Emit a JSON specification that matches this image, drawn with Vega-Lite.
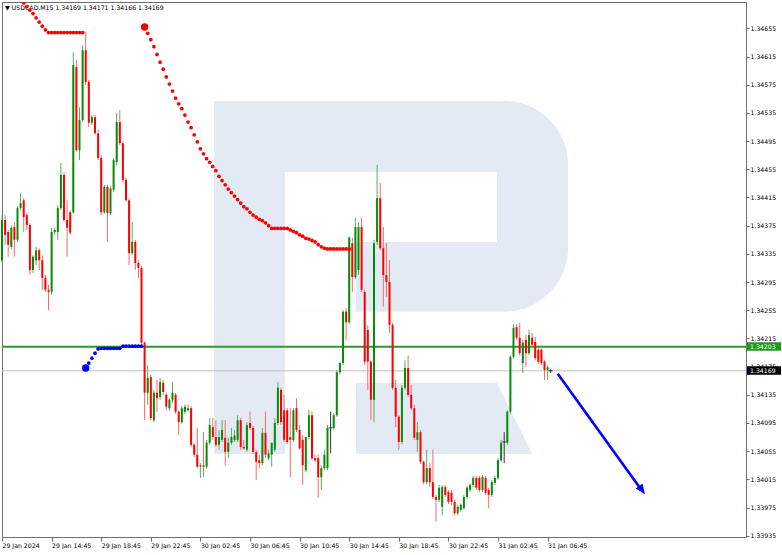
{
"$schema": "https://vega.github.io/schema/vega-lite/v6.json",
"width": 744, "height": 535,
"autosize": {"type": "none"},
"padding": {"left": 2, "top": 2, "right": 36, "bottom": 18},
"background": "#ffffff",
"config": {"view": {"stroke": "#6e6e6e", "strokeWidth": 1}, "font": "DejaVu Sans",
  "axis": {"labelFont": "DejaVu Sans", "labelFontSize": 6.2, "labelColor": "#000000", "tickColor": "#6e6e6e", "domain": false, "grid": false, "labelOverlap": false, "labelFlush": false, "labelBound": false}},
"datasets": {
"wmBowl": [{"t": "2024-01-30T03:51", "t2": "2024-01-31T08:24", "p": 1.34552, "p2": 1.34253}],
"wmStem": [{"t": "2024-01-30T03:51", "t2": "2024-01-30T09:34", "p": 1.34552, "p2": 1.34051}],
"wmHole": [{"t": "2024-01-30T09:34", "t2": "2024-01-31T02:40", "p": 1.34451, "p2": 1.34352}, {"t": "2024-01-30T09:34", "t2": "2024-01-30T15:18", "p": 1.34352, "p2": 1.34253}],
"wmLeg": [{"t": "2024-01-30T15:18", "p": 1.34152, "p2": 1.34051}, {"t": "2024-01-31T02:40", "p": 1.34152, "p2": 1.34051}, {"t": "2024-01-31T05:30", "p": 1.34051, "p2": 1.34051}],
"bars": [
{"t":"2024-01-29T10:45","o":1.34326,"h":1.34390,"l":1.34322,"c":1.34383},
{"t":"2024-01-29T11:00","o":1.34383,"h":1.34390,"l":1.34348,"c":1.34362},
{"t":"2024-01-29T11:15","o":1.34366,"h":1.34369,"l":1.34331,"c":1.34348},
{"t":"2024-01-29T11:30","o":1.34345,"h":1.34375,"l":1.34342,"c":1.34372},
{"t":"2024-01-29T11:45","o":1.34373,"h":1.34380,"l":1.34331,"c":1.34355},
{"t":"2024-01-29T12:00","o":1.34355,"h":1.34403,"l":1.34352,"c":1.34400},
{"t":"2024-01-29T12:15","o":1.34400,"h":1.34421,"l":1.34397,"c":1.34407},
{"t":"2024-01-29T12:30","o":1.34411,"h":1.34414,"l":1.34366,"c":1.34387},
{"t":"2024-01-29T12:45","o":1.34390,"h":1.34393,"l":1.34369,"c":1.34376},
{"t":"2024-01-29T13:00","o":1.34376,"h":1.34379,"l":1.34305,"c":1.34312},
{"t":"2024-01-29T13:15","o":1.34312,"h":1.34333,"l":1.34308,"c":1.34331},
{"t":"2024-01-29T13:30","o":1.34326,"h":1.34345,"l":1.34319,"c":1.34340},
{"t":"2024-01-29T13:45","o":1.34340,"h":1.34343,"l":1.34312,"c":1.34326},
{"t":"2024-01-29T14:00","o":1.34326,"h":1.34333,"l":1.34284,"c":1.34301},
{"t":"2024-01-29T14:15","o":1.34301,"h":1.34305,"l":1.34281,"c":1.34284},
{"t":"2024-01-29T14:30","o":1.34284,"h":1.34291,"l":1.34255,"c":1.34281},
{"t":"2024-01-29T14:45","o":1.34281,"h":1.34372,"l":1.34277,"c":1.34366},
{"t":"2024-01-29T15:00","o":1.34366,"h":1.34372,"l":1.34362,"c":1.34369},
{"t":"2024-01-29T15:15","o":1.34366,"h":1.34404,"l":1.34355,"c":1.34400},
{"t":"2024-01-29T15:30","o":1.34400,"h":1.34464,"l":1.34397,"c":1.34447},
{"t":"2024-01-29T15:45","o":1.34447,"h":1.34451,"l":1.34380,"c":1.34383},
{"t":"2024-01-29T16:00","o":1.34383,"h":1.34411,"l":1.34331,"c":1.34372},
{"t":"2024-01-29T16:15","o":1.34394,"h":1.34397,"l":1.34362,"c":1.34365},
{"t":"2024-01-29T16:30","o":1.34394,"h":1.34621,"l":1.34392,"c":1.34603},
{"t":"2024-01-29T16:45","o":1.34600,"h":1.34610,"l":1.34480,"c":1.34482},
{"t":"2024-01-29T17:00","o":1.34482,"h":1.34543,"l":1.34468,"c":1.34525},
{"t":"2024-01-29T17:15","o":1.34525,"h":1.34631,"l":1.34522,"c":1.34624},
{"t":"2024-01-29T17:30","o":1.34624,"h":1.34650,"l":1.34575,"c":1.34579},
{"t":"2024-01-29T17:45","o":1.34579,"h":1.34582,"l":1.34515,"c":1.34521},
{"t":"2024-01-29T18:00","o":1.34521,"h":1.34532,"l":1.34518,"c":1.34529},
{"t":"2024-01-29T18:15","o":1.34529,"h":1.34532,"l":1.34504,"c":1.34506},
{"t":"2024-01-29T18:30","o":1.34506,"h":1.34511,"l":1.34468,"c":1.34471},
{"t":"2024-01-29T18:45","o":1.34471,"h":1.34475,"l":1.34390,"c":1.34394},
{"t":"2024-01-29T19:00","o":1.34394,"h":1.34433,"l":1.34392,"c":1.34430},
{"t":"2024-01-29T19:15","o":1.34430,"h":1.34433,"l":1.34352,"c":1.34393},
{"t":"2024-01-29T19:30","o":1.34393,"h":1.34431,"l":1.34390,"c":1.34428},
{"t":"2024-01-29T19:45","o":1.34426,"h":1.34471,"l":1.34423,"c":1.34468},
{"t":"2024-01-29T20:00","o":1.34465,"h":1.34535,"l":1.34461,"c":1.34522},
{"t":"2024-01-29T20:15","o":1.34522,"h":1.34539,"l":1.34489,"c":1.34492},
{"t":"2024-01-29T20:30","o":1.34492,"h":1.34495,"l":1.34437,"c":1.34440},
{"t":"2024-01-29T20:45","o":1.34440,"h":1.34443,"l":1.34409,"c":1.34411},
{"t":"2024-01-29T21:00","o":1.34411,"h":1.34414,"l":1.34319,"c":1.34336},
{"t":"2024-01-29T21:15","o":1.34336,"h":1.34380,"l":1.34333,"c":1.34352},
{"t":"2024-01-29T21:30","o":1.34352,"h":1.34355,"l":1.34312,"c":1.34322},
{"t":"2024-01-29T21:45","o":1.34322,"h":1.34326,"l":1.34301,"c":1.34315},
{"t":"2024-01-29T22:00","o":1.34315,"h":1.34318,"l":1.34206,"c":1.34209},
{"t":"2024-01-29T22:15","o":1.34209,"h":1.34211,"l":1.34099,"c":1.34138},
{"t":"2024-01-29T22:30","o":1.34138,"h":1.34177,"l":1.34121,"c":1.34159},
{"t":"2024-01-29T22:45","o":1.34160,"h":1.34163,"l":1.34099,"c":1.34102},
{"t":"2024-01-29T23:00","o":1.34099,"h":1.34142,"l":1.34096,"c":1.34138},
{"t":"2024-01-29T23:15","o":1.34138,"h":1.34156,"l":1.34111,"c":1.34130},
{"t":"2024-01-29T23:30","o":1.34132,"h":1.34159,"l":1.34128,"c":1.34153},
{"t":"2024-01-29T23:45","o":1.34152,"h":1.34156,"l":1.34135,"c":1.34139},
{"t":"2024-01-30T00:00","o":1.34135,"h":1.34138,"l":1.34113,"c":1.34118},
{"t":"2024-01-30T00:15","o":1.34116,"h":1.34130,"l":1.34113,"c":1.34128},
{"t":"2024-01-30T00:30","o":1.34128,"h":1.34153,"l":1.34123,"c":1.34138},
{"t":"2024-01-30T00:45","o":1.34135,"h":1.34138,"l":1.34108,"c":1.34111},
{"t":"2024-01-30T01:00","o":1.34111,"h":1.34113,"l":1.34078,"c":1.34096},
{"t":"2024-01-30T01:15","o":1.34096,"h":1.34119,"l":1.34094,"c":1.34116},
{"t":"2024-01-30T01:30","o":1.34111,"h":1.34121,"l":1.34108,"c":1.34118},
{"t":"2024-01-30T01:45","o":1.34113,"h":1.34121,"l":1.34111,"c":1.34116},
{"t":"2024-01-30T02:00","o":1.34116,"h":1.34119,"l":1.34061,"c":1.34064},
{"t":"2024-01-30T02:15","o":1.34064,"h":1.34067,"l":1.34047,"c":1.34050},
{"t":"2024-01-30T02:30","o":1.34050,"h":1.34088,"l":1.34031,"c":1.34033},
{"t":"2024-01-30T02:45","o":1.34033,"h":1.34038,"l":1.34017,"c":1.34035},
{"t":"2024-01-30T03:00","o":1.34035,"h":1.34082,"l":1.34018,"c":1.34033},
{"t":"2024-01-30T03:15","o":1.34033,"h":1.34071,"l":1.34030,"c":1.34067},
{"t":"2024-01-30T03:30","o":1.34067,"h":1.34102,"l":1.34064,"c":1.34092},
{"t":"2024-01-30T03:45","o":1.34089,"h":1.34102,"l":1.34071,"c":1.34075},
{"t":"2024-01-30T04:00","o":1.34075,"h":1.34099,"l":1.34061,"c":1.34064},
{"t":"2024-01-30T04:15","o":1.34064,"h":1.34085,"l":1.34057,"c":1.34075},
{"t":"2024-01-30T04:30","o":1.34071,"h":1.34099,"l":1.34068,"c":1.34085},
{"t":"2024-01-30T04:45","o":1.34074,"h":1.34099,"l":1.34035,"c":1.34054},
{"t":"2024-01-30T05:00","o":1.34054,"h":1.34074,"l":1.34045,"c":1.34067},
{"t":"2024-01-30T05:15","o":1.34067,"h":1.34088,"l":1.34064,"c":1.34075},
{"t":"2024-01-30T05:30","o":1.34071,"h":1.34085,"l":1.34068,"c":1.34077},
{"t":"2024-01-30T05:45","o":1.34071,"h":1.34106,"l":1.34068,"c":1.34099},
{"t":"2024-01-30T06:00","o":1.34099,"h":1.34102,"l":1.34057,"c":1.34061},
{"t":"2024-01-30T06:15","o":1.34061,"h":1.34071,"l":1.34057,"c":1.34059},
{"t":"2024-01-30T06:30","o":1.34057,"h":1.34096,"l":1.34054,"c":1.34092},
{"t":"2024-01-30T06:45","o":1.34095,"h":1.34111,"l":1.34085,"c":1.34088},
{"t":"2024-01-30T07:00","o":1.34088,"h":1.34091,"l":1.34051,"c":1.34054},
{"t":"2024-01-30T07:15","o":1.34054,"h":1.34057,"l":1.34014,"c":1.34040},
{"t":"2024-01-30T07:30","o":1.34042,"h":1.34050,"l":1.34031,"c":1.34038},
{"t":"2024-01-30T07:45","o":1.34038,"h":1.34088,"l":1.34035,"c":1.34081},
{"t":"2024-01-30T08:00","o":1.34081,"h":1.34111,"l":1.34045,"c":1.34050},
{"t":"2024-01-30T08:15","o":1.34045,"h":1.34057,"l":1.34042,"c":1.34052},
{"t":"2024-01-30T08:30","o":1.34050,"h":1.34067,"l":1.34033,"c":1.34067},
{"t":"2024-01-30T08:45","o":1.34057,"h":1.34102,"l":1.34054,"c":1.34095},
{"t":"2024-01-30T09:00","o":1.34095,"h":1.34153,"l":1.34092,"c":1.34145},
{"t":"2024-01-30T09:15","o":1.34142,"h":1.34145,"l":1.34092,"c":1.34096},
{"t":"2024-01-30T09:30","o":1.34113,"h":1.34135,"l":1.34068,"c":1.34071},
{"t":"2024-01-30T09:45","o":1.34113,"h":1.34116,"l":1.34065,"c":1.34068},
{"t":"2024-01-30T10:00","o":1.34075,"h":1.34116,"l":1.34018,"c":1.34071},
{"t":"2024-01-30T10:15","o":1.34071,"h":1.34116,"l":1.34068,"c":1.34113},
{"t":"2024-01-30T10:30","o":1.34116,"h":1.34130,"l":1.34082,"c":1.34085},
{"t":"2024-01-30T10:45","o":1.34085,"h":1.34092,"l":1.34057,"c":1.34059},
{"t":"2024-01-30T11:00","o":1.34071,"h":1.34078,"l":1.34007,"c":1.34035},
{"t":"2024-01-30T11:15","o":1.34028,"h":1.34075,"l":1.34025,"c":1.34075},
{"t":"2024-01-30T11:30","o":1.34075,"h":1.34113,"l":1.34072,"c":1.34106},
{"t":"2024-01-30T11:45","o":1.34106,"h":1.34111,"l":1.34042,"c":1.34045},
{"t":"2024-01-30T12:00","o":1.34045,"h":1.34050,"l":1.34040,"c":1.34042},
{"t":"2024-01-30T12:15","o":1.34045,"h":1.34050,"l":1.33989,"c":1.34018},
{"t":"2024-01-30T12:30","o":1.34018,"h":1.34035,"l":1.34000,"c":1.34031},
{"t":"2024-01-30T12:45","o":1.34031,"h":1.34057,"l":1.34028,"c":1.34050},
{"t":"2024-01-30T13:00","o":1.34031,"h":1.34092,"l":1.34028,"c":1.34088},
{"t":"2024-01-30T13:15","o":1.34088,"h":1.34111,"l":1.34052,"c":1.34088},
{"t":"2024-01-30T13:30","o":1.34088,"h":1.34109,"l":1.34085,"c":1.34106},
{"t":"2024-01-30T13:45","o":1.34106,"h":1.34170,"l":1.34104,"c":1.34167},
{"t":"2024-01-30T14:00","o":1.34167,"h":1.34182,"l":1.34164,"c":1.34180},
{"t":"2024-01-30T14:15","o":1.34180,"h":1.34255,"l":1.34177,"c":1.34253},
{"t":"2024-01-30T14:30","o":1.34253,"h":1.34258,"l":1.34213,"c":1.34238},
{"t":"2024-01-30T14:45","o":1.34238,"h":1.34360,"l":1.34235,"c":1.34358},
{"t":"2024-01-30T15:00","o":1.34350,"h":1.34358,"l":1.34281,"c":1.34302},
{"t":"2024-01-30T15:15","o":1.34302,"h":1.34386,"l":1.34299,"c":1.34373},
{"t":"2024-01-30T15:30","o":1.34312,"h":1.34380,"l":1.34305,"c":1.34373},
{"t":"2024-01-30T15:45","o":1.34373,"h":1.34386,"l":1.34281,"c":1.34284},
{"t":"2024-01-30T16:00","o":1.34281,"h":1.34284,"l":1.34177,"c":1.34182},
{"t":"2024-01-30T16:15","o":1.34227,"h":1.34234,"l":1.34142,"c":1.34182},
{"t":"2024-01-30T16:30","o":1.34182,"h":1.34184,"l":1.34099,"c":1.34128},
{"t":"2024-01-30T16:45","o":1.34128,"h":1.34355,"l":1.34096,"c":1.34350},
{"t":"2024-01-30T17:00","o":1.34352,"h":1.34461,"l":1.34348,"c":1.34414},
{"t":"2024-01-30T17:15","o":1.34414,"h":1.34436,"l":1.34340,"c":1.34343},
{"t":"2024-01-30T17:30","o":1.34343,"h":1.34373,"l":1.34260,"c":1.34305},
{"t":"2024-01-30T17:45","o":1.34305,"h":1.34350,"l":1.34274,"c":1.34295},
{"t":"2024-01-30T18:00","o":1.34295,"h":1.34326,"l":1.34223,"c":1.34234},
{"t":"2024-01-30T18:15","o":1.34234,"h":1.34237,"l":1.34142,"c":1.34145},
{"t":"2024-01-30T18:30","o":1.34145,"h":1.34156,"l":1.34089,"c":1.34104},
{"t":"2024-01-30T18:45","o":1.34104,"h":1.34106,"l":1.34057,"c":1.34068},
{"t":"2024-01-30T19:00","o":1.34068,"h":1.34149,"l":1.34065,"c":1.34145},
{"t":"2024-01-30T19:15","o":1.34145,"h":1.34184,"l":1.34142,"c":1.34173},
{"t":"2024-01-30T19:30","o":1.34173,"h":1.34191,"l":1.34132,"c":1.34135},
{"t":"2024-01-30T19:45","o":1.34135,"h":1.34149,"l":1.34113,"c":1.34116},
{"t":"2024-01-30T20:00","o":1.34116,"h":1.34121,"l":1.34071,"c":1.34074},
{"t":"2024-01-30T20:15","o":1.34071,"h":1.34096,"l":1.34054,"c":1.34082},
{"t":"2024-01-30T20:30","o":1.34082,"h":1.34085,"l":1.34037,"c":1.34040},
{"t":"2024-01-30T20:45","o":1.34040,"h":1.34042,"l":1.34008,"c":1.34011},
{"t":"2024-01-30T21:00","o":1.34011,"h":1.34057,"l":1.34008,"c":1.34031},
{"t":"2024-01-30T21:15","o":1.34031,"h":1.34038,"l":1.34004,"c":1.34011},
{"t":"2024-01-30T21:30","o":1.34011,"h":1.34057,"l":1.33987,"c":1.33990},
{"t":"2024-01-30T21:45","o":1.33990,"h":1.33993,"l":1.33955,"c":1.33986},
{"t":"2024-01-30T22:00","o":1.33986,"h":1.34007,"l":1.33983,"c":1.34003},
{"t":"2024-01-30T22:15","o":1.33976,"h":1.34007,"l":1.33964,"c":1.34004},
{"t":"2024-01-30T22:30","o":1.34004,"h":1.34007,"l":1.33990,"c":1.33993},
{"t":"2024-01-30T22:45","o":1.33997,"h":1.34000,"l":1.33980,"c":1.33983},
{"t":"2024-01-30T23:00","o":1.33996,"h":1.34000,"l":1.33979,"c":1.33983},
{"t":"2024-01-30T23:15","o":1.33983,"h":1.33986,"l":1.33964,"c":1.33967},
{"t":"2024-01-30T23:30","o":1.33967,"h":1.33979,"l":1.33964,"c":1.33976},
{"t":"2024-01-30T23:45","o":1.33972,"h":1.33981,"l":1.33969,"c":1.33979},
{"t":"2024-01-31T00:00","o":1.33974,"h":1.33993,"l":1.33972,"c":1.33990},
{"t":"2024-01-31T00:15","o":1.33990,"h":1.34006,"l":1.33987,"c":1.34003},
{"t":"2024-01-31T00:30","o":1.34000,"h":1.34010,"l":1.33997,"c":1.34007},
{"t":"2024-01-31T00:45","o":1.34007,"h":1.34020,"l":1.34004,"c":1.34017},
{"t":"2024-01-31T01:00","o":1.34017,"h":1.34020,"l":1.34000,"c":1.34003},
{"t":"2024-01-31T01:15","o":1.34017,"h":1.34020,"l":1.33997,"c":1.34000},
{"t":"2024-01-31T01:30","o":1.34000,"h":1.34021,"l":1.33997,"c":1.34018},
{"t":"2024-01-31T01:45","o":1.34017,"h":1.34020,"l":1.33993,"c":1.33996},
{"t":"2024-01-31T02:00","o":1.34000,"h":1.34003,"l":1.33974,"c":1.33993},
{"t":"2024-01-31T02:15","o":1.33993,"h":1.34014,"l":1.33990,"c":1.34011},
{"t":"2024-01-31T02:30","o":1.34010,"h":1.34020,"l":1.34007,"c":1.34017},
{"t":"2024-01-31T02:45","o":1.34017,"h":1.34045,"l":1.34014,"c":1.34042},
{"t":"2024-01-31T03:00","o":1.34042,"h":1.34071,"l":1.34040,"c":1.34067},
{"t":"2024-01-31T03:15","o":1.34068,"h":1.34082,"l":1.34038,"c":1.34068},
{"t":"2024-01-31T03:30","o":1.34067,"h":1.34113,"l":1.34064,"c":1.34111},
{"t":"2024-01-31T03:45","o":1.34111,"h":1.34191,"l":1.34108,"c":1.34189},
{"t":"2024-01-31T04:00","o":1.34189,"h":1.34235,"l":1.34186,"c":1.34230},
{"t":"2024-01-31T04:15","o":1.34231,"h":1.34235,"l":1.34213,"c":1.34216},
{"t":"2024-01-31T04:30","o":1.34216,"h":1.34237,"l":1.34191,"c":1.34194},
{"t":"2024-01-31T04:45","o":1.34180,"h":1.34213,"l":1.34166,"c":1.34209},
{"t":"2024-01-31T05:00","o":1.34213,"h":1.34220,"l":1.34174,"c":1.34194},
{"t":"2024-01-31T05:15","o":1.34194,"h":1.34227,"l":1.34191,"c":1.34220},
{"t":"2024-01-31T05:30","o":1.34216,"h":1.34223,"l":1.34203,"c":1.34206},
{"t":"2024-01-31T05:45","o":1.34210,"h":1.34217,"l":1.34184,"c":1.34187},
{"t":"2024-01-31T06:00","o":1.34199,"h":1.34201,"l":1.34179,"c":1.34182},
{"t":"2024-01-31T06:15","o":1.34199,"h":1.34201,"l":1.34177,"c":1.34180},
{"t":"2024-01-31T06:30","o":1.34182,"h":1.34184,"l":1.34156,"c":1.34170},
{"t":"2024-01-31T06:45","o":1.34170,"h":1.34177,"l":1.34156,"c":1.34174},
{"t":"2024-01-31T07:00","o":1.34169,"h":1.34171,"l":1.34166,"c":1.34169}
],
"sar": [
{"t":"2024-01-29T12:00","p":1.34701,"s":"sell","k":"dot"},
{"t":"2024-01-29T12:15","p":1.34696,"s":"sell","k":"dot"},
{"t":"2024-01-29T12:30","p":1.34691,"s":"sell","k":"dot"},
{"t":"2024-01-29T12:45","p":1.34686,"s":"sell","k":"dot"},
{"t":"2024-01-29T13:00","p":1.34681,"s":"sell","k":"dot"},
{"t":"2024-01-29T13:15","p":1.34676,"s":"sell","k":"dot"},
{"t":"2024-01-29T13:30","p":1.34670,"s":"sell","k":"dot"},
{"t":"2024-01-29T13:45","p":1.34664,"s":"sell","k":"dot"},
{"t":"2024-01-29T14:00","p":1.34658,"s":"sell","k":"dot"},
{"t":"2024-01-29T14:15","p":1.34653,"s":"sell","k":"dot"},
{"t":"2024-01-29T14:30","p":1.34649,"s":"sell","k":"dot"},
{"t":"2024-01-29T14:45","p":1.34649,"s":"sell","k":"dot"},
{"t":"2024-01-29T15:00","p":1.34649,"s":"sell","k":"dot"},
{"t":"2024-01-29T15:15","p":1.34649,"s":"sell","k":"dot"},
{"t":"2024-01-29T15:30","p":1.34649,"s":"sell","k":"dot"},
{"t":"2024-01-29T15:45","p":1.34649,"s":"sell","k":"dot"},
{"t":"2024-01-29T16:00","p":1.34649,"s":"sell","k":"dot"},
{"t":"2024-01-29T16:15","p":1.34649,"s":"sell","k":"dot"},
{"t":"2024-01-29T16:30","p":1.34649,"s":"sell","k":"dot"},
{"t":"2024-01-29T16:45","p":1.34649,"s":"sell","k":"dot"},
{"t":"2024-01-29T17:00","p":1.34649,"s":"sell","k":"dot"},
{"t":"2024-01-29T17:15","p":1.34649,"s":"sell","k":"dot"},
{"t":"2024-01-29T17:30","p":1.34173,"s":"buy","k":"start"},
{"t":"2024-01-29T17:45","p":1.34180,"s":"buy","k":"dot"},
{"t":"2024-01-29T18:00","p":1.34187,"s":"buy","k":"dot"},
{"t":"2024-01-29T18:15","p":1.34194,"s":"buy","k":"dot"},
{"t":"2024-01-29T18:30","p":1.34200,"s":"buy","k":"dot"},
{"t":"2024-01-29T18:45","p":1.34201,"s":"buy","k":"dot"},
{"t":"2024-01-29T19:00","p":1.34201,"s":"buy","k":"dot"},
{"t":"2024-01-29T19:15","p":1.34201,"s":"buy","k":"dot"},
{"t":"2024-01-29T19:30","p":1.34201,"s":"buy","k":"dot"},
{"t":"2024-01-29T19:45","p":1.34201,"s":"buy","k":"dot"},
{"t":"2024-01-29T20:00","p":1.34201,"s":"buy","k":"dot"},
{"t":"2024-01-29T20:15","p":1.34201,"s":"buy","k":"dot"},
{"t":"2024-01-29T20:30","p":1.34204,"s":"buy","k":"dot"},
{"t":"2024-01-29T20:45","p":1.34204,"s":"buy","k":"dot"},
{"t":"2024-01-29T21:00","p":1.34204,"s":"buy","k":"dot"},
{"t":"2024-01-29T21:15","p":1.34204,"s":"buy","k":"dot"},
{"t":"2024-01-29T21:30","p":1.34204,"s":"buy","k":"dot"},
{"t":"2024-01-29T21:45","p":1.34204,"s":"buy","k":"dot"},
{"t":"2024-01-29T22:00","p":1.34204,"s":"buy","k":"dot"},
{"t":"2024-01-29T22:15","p":1.34657,"s":"sell","k":"start"},
{"t":"2024-01-29T22:30","p":1.34648,"s":"sell","k":"dot"},
{"t":"2024-01-29T22:45","p":1.34639,"s":"sell","k":"dot"},
{"t":"2024-01-29T23:00","p":1.34629,"s":"sell","k":"dot"},
{"t":"2024-01-29T23:15","p":1.34618,"s":"sell","k":"dot"},
{"t":"2024-01-29T23:30","p":1.34607,"s":"sell","k":"dot"},
{"t":"2024-01-29T23:45","p":1.34597,"s":"sell","k":"dot"},
{"t":"2024-01-30T00:00","p":1.34586,"s":"sell","k":"dot"},
{"t":"2024-01-30T00:15","p":1.34576,"s":"sell","k":"dot"},
{"t":"2024-01-30T00:30","p":1.34566,"s":"sell","k":"dot"},
{"t":"2024-01-30T00:45","p":1.34556,"s":"sell","k":"dot"},
{"t":"2024-01-30T01:00","p":1.34548,"s":"sell","k":"dot"},
{"t":"2024-01-30T01:15","p":1.34541,"s":"sell","k":"dot"},
{"t":"2024-01-30T01:30","p":1.34532,"s":"sell","k":"dot"},
{"t":"2024-01-30T01:45","p":1.34522,"s":"sell","k":"dot"},
{"t":"2024-01-30T02:00","p":1.34514,"s":"sell","k":"dot"},
{"t":"2024-01-30T02:15","p":1.34504,"s":"sell","k":"dot"},
{"t":"2024-01-30T02:30","p":1.34494,"s":"sell","k":"dot"},
{"t":"2024-01-30T02:45","p":1.34484,"s":"sell","k":"dot"},
{"t":"2024-01-30T03:00","p":1.34477,"s":"sell","k":"dot"},
{"t":"2024-01-30T03:15","p":1.34470,"s":"sell","k":"dot"},
{"t":"2024-01-30T03:30","p":1.34465,"s":"sell","k":"dot"},
{"t":"2024-01-30T03:45","p":1.34459,"s":"sell","k":"dot"},
{"t":"2024-01-30T04:00","p":1.34453,"s":"sell","k":"dot"},
{"t":"2024-01-30T04:15","p":1.34445,"s":"sell","k":"dot"},
{"t":"2024-01-30T04:30","p":1.34439,"s":"sell","k":"dot"},
{"t":"2024-01-30T04:45","p":1.34433,"s":"sell","k":"dot"},
{"t":"2024-01-30T05:00","p":1.34427,"s":"sell","k":"dot"},
{"t":"2024-01-30T05:15","p":1.34422,"s":"sell","k":"dot"},
{"t":"2024-01-30T05:30","p":1.34417,"s":"sell","k":"dot"},
{"t":"2024-01-30T05:45","p":1.34412,"s":"sell","k":"dot"},
{"t":"2024-01-30T06:00","p":1.34407,"s":"sell","k":"dot"},
{"t":"2024-01-30T06:15","p":1.34402,"s":"sell","k":"dot"},
{"t":"2024-01-30T06:30","p":1.34399,"s":"sell","k":"dot"},
{"t":"2024-01-30T06:45","p":1.34394,"s":"sell","k":"dot"},
{"t":"2024-01-30T07:00","p":1.34390,"s":"sell","k":"dot"},
{"t":"2024-01-30T07:15","p":1.34387,"s":"sell","k":"dot"},
{"t":"2024-01-30T07:30","p":1.34384,"s":"sell","k":"dot"},
{"t":"2024-01-30T07:45","p":1.34382,"s":"sell","k":"dot"},
{"t":"2024-01-30T08:00","p":1.34379,"s":"sell","k":"dot"},
{"t":"2024-01-30T08:15","p":1.34375,"s":"sell","k":"dot"},
{"t":"2024-01-30T08:30","p":1.34371,"s":"sell","k":"dot"},
{"t":"2024-01-30T08:45","p":1.34371,"s":"sell","k":"dot"},
{"t":"2024-01-30T09:00","p":1.34371,"s":"sell","k":"dot"},
{"t":"2024-01-30T09:15","p":1.34371,"s":"sell","k":"dot"},
{"t":"2024-01-30T09:30","p":1.34371,"s":"sell","k":"dot"},
{"t":"2024-01-30T09:45","p":1.34371,"s":"sell","k":"dot"},
{"t":"2024-01-30T10:00","p":1.34369,"s":"sell","k":"dot"},
{"t":"2024-01-30T10:15","p":1.34367,"s":"sell","k":"dot"},
{"t":"2024-01-30T10:30","p":1.34365,"s":"sell","k":"dot"},
{"t":"2024-01-30T10:45","p":1.34362,"s":"sell","k":"dot"},
{"t":"2024-01-30T11:00","p":1.34360,"s":"sell","k":"dot"},
{"t":"2024-01-30T11:15","p":1.34357,"s":"sell","k":"dot"},
{"t":"2024-01-30T11:30","p":1.34356,"s":"sell","k":"dot"},
{"t":"2024-01-30T11:45","p":1.34354,"s":"sell","k":"dot"},
{"t":"2024-01-30T12:00","p":1.34352,"s":"sell","k":"dot"},
{"t":"2024-01-30T12:15","p":1.34348,"s":"sell","k":"dot"},
{"t":"2024-01-30T12:30","p":1.34345,"s":"sell","k":"dot"},
{"t":"2024-01-30T12:45","p":1.34343,"s":"sell","k":"dot"},
{"t":"2024-01-30T13:00","p":1.34342,"s":"sell","k":"dot"},
{"t":"2024-01-30T13:15","p":1.34342,"s":"sell","k":"dot"},
{"t":"2024-01-30T13:30","p":1.34342,"s":"sell","k":"dot"},
{"t":"2024-01-30T13:45","p":1.34342,"s":"sell","k":"dot"},
{"t":"2024-01-30T14:00","p":1.34342,"s":"sell","k":"dot"},
{"t":"2024-01-30T14:15","p":1.34342,"s":"sell","k":"dot"},
{"t":"2024-01-30T14:30","p":1.34342,"s":"sell","k":"dot"},
{"t":"2024-01-30T14:45","p":1.34342,"s":"sell","k":"dot"}
],
"arrow": [{"t":"2024-01-31T07:34","p":1.34165},{"t":"2024-01-31T14:14","p":1.34002}],
"tip": [{"t":"2024-01-31T14:36","p":1.33994}],
"tags": [{"p":1.34203,"label":"1.34203","kind":"line"},{"p":1.34169,"label":"1.34169","kind":"bid"}]
},
"layer": [
{"data":{"name":"wmBowl"},"mark":{"type":"rect","color":"#e4eaf3","cornerRadiusTopRight":64,"cornerRadiusBottomRight":64},
 "encoding":{
  "x":{"field":"t","type":"temporal","scale":{"domain":[{"year":2024,"month":1,"date":29,"hours":10,"minutes":45},{"year":2024,"month":1,"date":31,"hours":22,"minutes":45}]},
   "axis":{"orient":"bottom","title":null,"tickCount":40,"values":[
    {"year":2024,"month":1,"date":29,"hours":10,"minutes":45},{"year":2024,"month":1,"date":29,"hours":14,"minutes":45},
    {"year":2024,"month":1,"date":29,"hours":18,"minutes":45},{"year":2024,"month":1,"date":29,"hours":22,"minutes":45},
    {"year":2024,"month":1,"date":30,"hours":2,"minutes":45},{"year":2024,"month":1,"date":30,"hours":6,"minutes":45},
    {"year":2024,"month":1,"date":30,"hours":10,"minutes":45},{"year":2024,"month":1,"date":30,"hours":14,"minutes":45},
    {"year":2024,"month":1,"date":30,"hours":18,"minutes":45},{"year":2024,"month":1,"date":30,"hours":22,"minutes":45},
    {"year":2024,"month":1,"date":31,"hours":2,"minutes":45},{"year":2024,"month":1,"date":31,"hours":6,"minutes":45}],
    "labelExpr":"timeFormat(datum.value, '%H:%M %d') == '10:45 29' ? '29 Jan 2024' : timeFormat(datum.value, '%d %b %H:%M')",
    "tickSize":4,"labelPadding":1,"labelAlign":"left","labelBaseline":"top","labelOverlap":false,"labelFlush":false,"labelBound":false}},
  "x2":{"field":"t2"},
  "y":{"field":"p","type":"quantitative","scale":{"domain":[1.339332,1.346924],"nice":false,"zero":false},
   "axis":{"orient":"right","title":null,"tickCount":40,"values":[1.33935,1.33975,1.34015,1.34055,1.34095,1.34135,1.34175,1.34215,1.34255,1.34295,1.34335,1.34375,1.34415,1.34455,1.34495,1.34535,1.34575,1.34615,1.34655],
    "format":".5f","tickSize":3,"labelPadding":1,"labelAlign":"left","labelBaseline":"middle","labelOverlap":false,"labelFlush":false,"labelBound":false}},
  "y2":{"field":"p2"}}},
{"data":{"name":"wmStem"},"mark":{"type":"rect","color":"#e4eaf3"},
 "encoding":{"x":{"field":"t","type":"temporal"},"x2":{"field":"t2"},"y":{"field":"p","type":"quantitative"},"y2":{"field":"p2"}}},
{"data":{"name":"wmHole"},"mark":{"type":"rect","color":"#ffffff"},
 "encoding":{"x":{"field":"t","type":"temporal"},"x2":{"field":"t2"},"y":{"field":"p","type":"quantitative"},"y2":{"field":"p2"}}},
{"data":{"name":"wmLeg"},"mark":{"type":"area","color":"#e4eaf3","opacity":1},
 "encoding":{"x":{"field":"t","type":"temporal"},"y":{"field":"p","type":"quantitative"},"y2":{"field":"p2"}}},
{"data":{"values":[{}]},"mark":{"type":"rule","color":"#c0c0c0","strokeWidth":1},"encoding":{"y":{"datum":1.34169,"type":"quantitative"}}},
{"data":{"values":[{}]},"mark":{"type":"rule","color":"#2e982e","strokeWidth":2},"encoding":{"y":{"datum":1.34203,"type":"quantitative"}}},
{"data":{"name":"bars"},"mark":{"type":"rule","strokeWidth":1},
 "encoding":{"x":{"field":"t","type":"temporal"},"y":{"field":"l","type":"quantitative"},"y2":{"field":"h"},
  "color":{"condition":[{"test":"datum.c > datum.o","value":"#5aac5a"},{"test":"datum.c < datum.o","value":"#f26c6c"}],"value":"#333333"}}},
{"data":{"name":"bars"},"mark":{"type":"rule","strokeWidth":2},
 "encoding":{"x":{"field":"t","type":"temporal"},"y":{"field":"o","type":"quantitative"},"y2":{"field":"c"},
  "color":{"condition":[{"test":"datum.c > datum.o","value":"#0a8a0a"},{"test":"datum.c < datum.o","value":"#ff0000"}],"value":"#000000"}}},
{"data":{"name":"bars"},"transform":[{"filter":"datum.o == datum.c"}],"mark":{"type":"tick","orient":"horizontal","size":4,"thickness":1,"color":"#000000"},
 "encoding":{"x":{"field":"t","type":"temporal"},"y":{"field":"o","type":"quantitative"}}},
{"data":{"values":[{}]},"mark":{"type":"text","align":"left","baseline":"middle","dx":3,"dy":6,"font":"DejaVu Sans","fontSize":6.2,"color":"#000000"},
 "encoding":{"x":{"datum":{"year":2024,"month":1,"date":29,"hours":10,"minutes":45},"type":"temporal"},"y":{"datum":1.346924,"type":"quantitative"},
  "text":{"value":"▼ USDCAD,M15  1.34169 1.34171 1.34166 1.34169"}}},
{"data":{"name":"sar"},"mark":{"type":"circle","opacity":1,"clip":true},
 "encoding":{"x":{"field":"t","type":"temporal"},"y":{"field":"p","type":"quantitative"},
  "color":{"field":"s","type":"nominal","scale":{"domain":["sell","buy"],"range":["#ff0000","#0000ff"]},"legend":null},
  "size":{"field":"k","type":"ordinal","scale":{"domain":["dot","start"],"range":[14,55]},"legend":null}}},
{"data":{"name":"arrow"},"mark":{"type":"line","color":"#0000ff","strokeWidth":2.6},
 "encoding":{"x":{"field":"t","type":"temporal"},"y":{"field":"p","type":"quantitative"}}},
{"data":{"name":"tip"},"mark":{"type":"point","shape":"M0,0 L-0.85,2 L0.85,2 Z","filled":true,"color":"#0000ff","opacity":1,"size":100,"angle":144},
 "encoding":{"x":{"field":"t","type":"temporal"},"y":{"field":"p","type":"quantitative"}}},
{"data":{"name":"tags"},"mark":{"type":"rect","xOffset":1,"x2Offset":35,"yOffset":-4.5,"y2Offset":4},
 "encoding":{"x":{"datum":{"year":2024,"month":1,"date":31,"hours":22,"minutes":45},"type":"temporal"},
  "x2":{"datum":{"year":2024,"month":1,"date":31,"hours":22,"minutes":45}},
  "y":{"field":"p","type":"quantitative"},"y2":{"field":"p"},
  "color":{"condition":{"test":"datum.kind == 'line'","value":"#1f9a1f"},"value":"#000000"}}},
{"data":{"name":"tags"},"mark":{"type":"text","align":"left","baseline":"middle","dx":4,"font":"DejaVu Sans","fontSize":6.2,"color":"#ffffff"},
 "encoding":{"x":{"datum":{"year":2024,"month":1,"date":31,"hours":22,"minutes":45},"type":"temporal"},
  "y":{"field":"p","type":"quantitative"},"text":{"field":"label"}}}
]
}
